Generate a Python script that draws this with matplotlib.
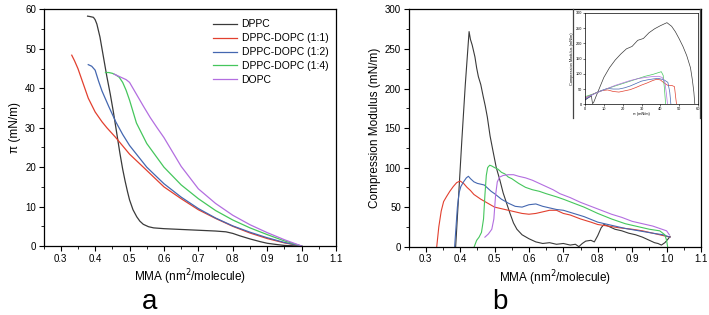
import matplotlib
matplotlib.use("Agg")
import matplotlib.pyplot as plt
from matplotlib.ticker import MultipleLocator
from matplotlib.lines import Line2D

plt.rcParams['font.family'] = ['Liberation Sans', 'DejaVu Sans']

# --------------------------------------------------
# Series names / colours
# --------------------------------------------------
labels = ["DPPC", "DPPC-DOPC (1:1)", "DPPC-DOPC (1:2)", "DPPC-DOPC (1:4)", "DOPC"]
colors = ["#3a3a3a", "#e2402f", "#4467b0", "#45c65c", "#b36ee0"]

# --------------------------------------------------
# Panel a: pi - MMA isotherms
# --------------------------------------------------
a_dppc_x = [0.378, 0.385, 0.395, 0.400, 0.405, 0.414, 0.424, 0.434, 0.444, 0.453, 0.463, 0.472,
            0.480, 0.487, 0.494, 0.500, 0.510, 0.521, 0.530, 0.540, 0.555, 0.570, 0.600, 0.650,
            0.700, 0.750, 0.780, 0.800, 0.820, 0.850, 0.880, 0.900, 0.930, 0.950, 0.975, 1.000]
a_dppc_y = [58.3, 58.2, 58.0, 57.4, 56.3, 53.0, 48.0, 43.0, 38.5, 34.0, 28.5, 23.5,
            19.5, 16.5, 13.8, 11.7, 9.2, 7.4, 6.3, 5.5, 4.9, 4.6, 4.4, 4.2,
            4.0, 3.8, 3.6, 3.2, 2.6, 1.8, 1.1, 0.7, 0.35, 0.15, 0.05, 0.0]

a_11_x = [0.332, 0.34, 0.35, 0.36, 0.37, 0.38, 0.40, 0.42, 0.434, 0.46, 0.50, 0.54, 0.60,
          0.65, 0.70, 0.75, 0.80, 0.85, 0.90, 0.95, 1.0]
a_11_y = [48.4, 47.0, 45.0, 42.5, 40.0, 37.5, 34.0, 31.5, 30.0, 27.5, 23.3, 20.0, 15.0,
          12.0, 9.2, 7.0, 5.0, 3.3, 1.9, 0.8, 0.0]

a_12_x = [0.38, 0.39, 0.40, 0.41, 0.42, 0.44, 0.46, 0.48, 0.50, 0.55, 0.60, 0.65, 0.70,
          0.75, 0.80, 0.85, 0.90, 0.95, 1.0]
a_12_y = [46.0, 45.6, 44.6, 41.8, 39.3, 35.3, 31.5, 28.3, 25.5, 20.0, 15.8, 12.4, 9.5,
          7.1, 5.1, 3.5, 2.1, 0.9, 0.0]

a_14_x = [0.43, 0.44, 0.45, 0.46, 0.47, 0.48, 0.49, 0.50, 0.52, 0.55, 0.60, 0.65, 0.70,
          0.75, 0.80, 0.85, 0.90, 0.95, 1.0]
a_14_y = [44.0, 44.0, 43.8, 43.4, 42.8, 41.5, 39.5, 37.0, 31.2, 26.0, 20.0, 15.5, 12.0,
          9.0, 6.6, 4.6, 2.9, 1.3, 0.0]

a_dopc_x = [0.455, 0.47, 0.48, 0.49, 0.50, 0.51, 0.52, 0.54, 0.56, 0.58, 0.60, 0.65, 0.70,
            0.75, 0.80, 0.85, 0.90, 0.95, 1.0]
a_dopc_y = [43.6, 43.0, 42.6, 42.2, 41.5, 40.0, 38.5, 35.5, 32.6, 30.0, 27.5, 20.2, 14.5,
            10.8, 7.8, 5.4, 3.4, 1.6, 0.0]

# --------------------------------------------------
# Panel b: compression modulus - MMA
# --------------------------------------------------
b_dppc_x = [0.387, 0.395, 0.405, 0.415, 0.426, 0.430, 0.435, 0.443, 0.448, 0.453, 0.460, 0.467,
            0.473, 0.479, 0.487, 0.495, 0.505, 0.515, 0.525, 0.535, 0.545, 0.555, 0.565, 0.580,
            0.600, 0.620, 0.640, 0.660, 0.680, 0.700, 0.720, 0.735, 0.745, 0.755, 0.765, 0.780,
            0.790, 0.800, 0.810, 0.818, 0.830, 0.850, 0.870, 0.890, 0.910, 0.930, 0.950, 0.965,
            0.975, 0.985, 0.995, 1.005, 1.010]
b_dppc_y = [0, 60, 135, 205, 272, 262, 255, 240, 226, 215, 205, 190,
            178, 164, 140, 122, 100, 85, 68, 55, 42, 30, 22, 15,
            10, 6, 4, 5, 3, 4, 2, 3, 0, 4, 7, 8,
            6, 14, 24, 28, 26, 22, 20, 17, 15, 12, 8, 5,
            4, 2, 5, 10, 13]

b_11_x = [0.332, 0.338, 0.345, 0.352, 0.36, 0.37, 0.38, 0.39, 0.40, 0.41, 0.42, 0.43, 0.44,
          0.46, 0.48, 0.50, 0.52, 0.55, 0.58, 0.60, 0.62, 0.64, 0.66, 0.68, 0.70, 0.72,
          0.75, 0.78, 0.80, 0.83, 0.86, 0.90, 0.93, 0.96, 0.98, 1.00, 1.01]
b_11_y = [0, 25, 45, 57, 63, 70, 76, 81, 83, 80, 75, 71, 66,
          60, 55, 50, 48, 45, 42, 41, 42, 44, 46, 46, 42, 40,
          35, 31, 28, 26, 24, 22, 20, 17, 15, 13, 12]

b_12_x = [0.384, 0.388, 0.392, 0.397, 0.402, 0.41, 0.418, 0.424, 0.43, 0.44, 0.45, 0.46,
          0.47, 0.48, 0.49, 0.50, 0.52, 0.54, 0.56, 0.58, 0.60, 0.62, 0.64, 0.66, 0.68,
          0.70, 0.73, 0.76, 0.80, 0.84, 0.88, 0.92, 0.96, 0.99, 1.01]
b_12_y = [0, 25, 50, 68, 76, 82, 87, 89, 86, 82, 80, 79,
          78, 74, 70, 67, 60, 55, 51, 50, 53, 54, 51, 49, 47,
          46, 42, 38, 31, 27, 23, 20, 17, 15, 12]

b_14_x = [0.441, 0.448, 0.455, 0.462, 0.468, 0.472, 0.476, 0.480, 0.486, 0.492, 0.50, 0.51,
          0.52, 0.53, 0.54, 0.55, 0.57, 0.59, 0.61, 0.63, 0.65, 0.68, 0.70, 0.73, 0.76,
          0.80, 0.84, 0.88, 0.92, 0.95, 0.98, 0.995, 1.0, 1.003]
b_14_y = [0, 8, 12, 18, 35, 65, 90, 100, 103, 102, 100, 98,
          94, 92, 88, 86, 80, 75, 72, 70, 67, 63, 60, 55, 50,
          42, 35, 29, 25, 22, 20, 15, 8, 0]

b_dopc_x = [0.472, 0.482, 0.492, 0.498, 0.503, 0.508, 0.515, 0.525, 0.54, 0.555, 0.57, 0.59,
            0.61, 0.63, 0.65, 0.67, 0.69, 0.72, 0.75, 0.78, 0.81, 0.84, 0.87, 0.90, 0.93,
            0.96, 0.98, 1.0, 1.008]
b_dopc_y = [12, 16, 22, 35, 65, 82, 88, 90, 91, 91, 89, 87,
            84, 80, 76, 72, 67, 62, 56, 51, 46, 41, 37, 32, 29,
            26, 23, 20, 15]

# --------------------------------------------------
# Inset: compression modulus - pi
# --------------------------------------------------
i_dppc_x = [0, 2, 3.4, 4.0, 4.6, 6, 8, 10, 13, 16, 19, 22, 25, 28, 31, 34, 37, 40, 43.5,
            46, 48, 50, 52, 54, 56, 57, 57.8, 58.3]
i_dppc_y = [14, 22, 27, 2, 6, 28, 58, 88, 120, 145, 165, 182, 190, 210, 216, 235, 248, 258, 268,
            256, 238, 215, 190, 160, 120, 80, 40, 0]
i_11_x = [0, 3, 6, 9, 12, 15, 18, 21, 24, 27, 30, 33, 36, 38, 40, 42, 44, 46, 47.5, 48.2, 48.6]
i_11_y = [20, 30, 38, 45, 47, 42, 40, 44, 48, 55, 63, 70, 78, 82, 80, 70, 62, 62, 58, 20, 0]
i_12_x = [0, 3, 6, 9, 12, 15, 18, 21, 24, 27, 30, 33, 36, 39, 42, 44, 45, 45.6]
i_12_y = [15, 28, 38, 46, 52, 50, 50, 54, 60, 68, 76, 80, 83, 85, 80, 72, 40, 0]
i_14_x = [0, 4, 8, 12, 16, 20, 24, 28, 32, 36, 38, 40.5, 41.5, 42.2, 42.8]
i_14_y = [25, 33, 42, 52, 60, 68, 76, 84, 92, 98, 102, 107, 95, 50, 0]
i_dopc_x = [0, 4, 8, 12, 16, 20, 24, 28, 32, 36, 39, 41, 42.5, 43.3, 43.8]
i_dopc_y = [20, 32, 42, 52, 62, 70, 78, 84, 88, 91, 92, 88, 70, 30, 0]

a_series = [(a_dppc_x, a_dppc_y), (a_11_x, a_11_y), (a_12_x, a_12_y), (a_14_x, a_14_y), (a_dopc_x, a_dopc_y)]
b_series = [(b_dppc_x, b_dppc_y), (b_11_x, b_11_y), (b_12_x, b_12_y), (b_14_x, b_14_y), (b_dopc_x, b_dopc_y)]
i_series = [(i_dppc_x, i_dppc_y), (i_11_x, i_11_y), (i_12_x, i_12_y), (i_14_x, i_14_y), (i_dopc_x, i_dopc_y)]

# --------------------------------------------------
# Figure
# --------------------------------------------------
fig = plt.figure(figsize=(7.09, 3.15), dpi=100)
ax_a = fig.add_axes([0.0614, 0.219, 0.4125, 0.751])
ax_b = fig.add_axes([0.5762, 0.217, 0.4125, 0.753])


def style_axes(ax, ymax, ymajor, yminor):
    ax.set_xlim(0.25, 1.1)
    ax.set_ylim(0, ymax)
    ax.xaxis.set_major_locator(MultipleLocator(0.1))
    ax.xaxis.set_minor_locator(MultipleLocator(0.05))
    ax.yaxis.set_major_locator(MultipleLocator(ymajor))
    ax.yaxis.set_minor_locator(MultipleLocator(yminor))
    ax.tick_params(which='major', direction='out', length=3.5, width=0.8, labelsize=7, pad=2)
    ax.tick_params(which='minor', direction='out', length=2, width=0.6)
    for s in ax.spines.values():
        s.set_linewidth(0.9)
    ax.set_xlabel("MMA (nm$^2$/molecule)", fontsize=8.5, labelpad=3)


for (x, y), c, lab in zip(a_series, colors, labels):
    ax_a.plot(x, y, color=c, lw=0.9, label=lab)
style_axes(ax_a, 60, 10, 5)
ax_a.xaxis.set_major_formatter(plt.FormatStrFormatter('%.1f'))
ax_a.set_ylabel("π (mN/m)", fontsize=8.5, labelpad=3)
ax_a.legend(loc='upper right', bbox_to_anchor=(0.995, 0.985), frameon=False, fontsize=7.5,
            handlelength=2.3, handletextpad=0.4, labelspacing=0.38, borderaxespad=0.2)

for (x, y), c in zip(b_series, colors):
    ax_b.plot(x, y, color=c, lw=0.8)
style_axes(ax_b, 300, 50, 25)
ax_b.xaxis.set_major_formatter(plt.FormatStrFormatter('%.1f'))
ax_b.set_ylabel("Compression Modulus (mN/m)", fontsize=8.5, labelpad=3)

ax_i = fig.add_axes([0.8251, 0.669, 0.1594, 0.290])
for (x, y), c in zip(i_series, colors):
    ax_i.plot(x, y, color=c, lw=0.5)
ax_i.set_xlim(0, 60)
ax_i.set_ylim(0, 300)
ax_i.xaxis.set_major_locator(MultipleLocator(10))
ax_i.yaxis.set_major_locator(MultipleLocator(50))
ax_i.tick_params(direction='out', length=1.2, width=0.4, labelsize=2.8, pad=0.8)
for s in ax_i.spines.values():
    s.set_linewidth(0.5)
ax_i.set_xlabel("π (mN/m)", fontsize=2.8, labelpad=1)
ax_i.set_ylabel("Compression Modulus (mN/m)", fontsize=2.8, labelpad=1)

# inset picture frame (only side edges visible)
for xf in (0.8082, 0.9875):
    fig.add_artist(Line2D([xf, xf], [0.625, 0.970], transform=fig.transFigure,
                          color='#444444', lw=0.9, zorder=20))

# panel letters
fig.text(0.2115, 0.0, "a", fontsize=20, ha='center', va='bottom')
fig.text(0.7055, 0.0, "b", fontsize=20, ha='center', va='bottom')

fig.savefig("out.png", dpi=100)
